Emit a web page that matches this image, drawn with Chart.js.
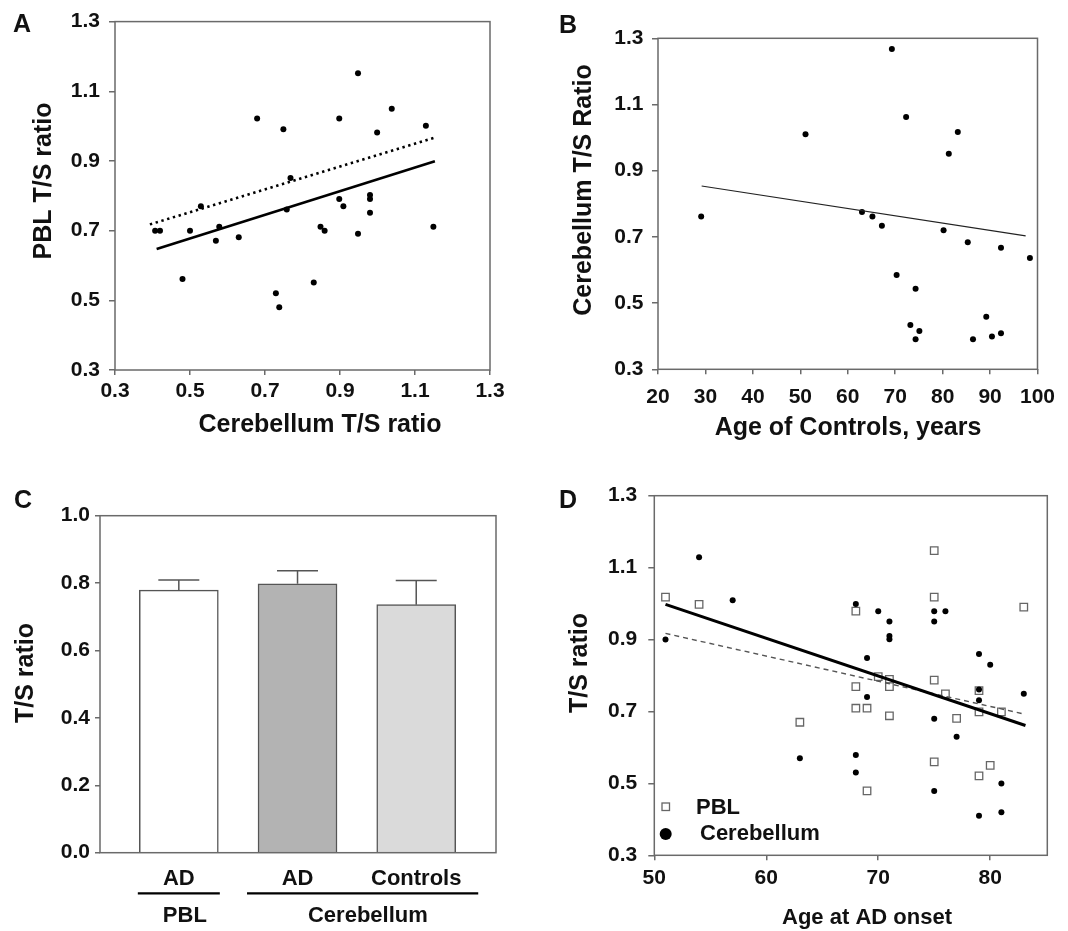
<!DOCTYPE html>
<html><head><meta charset="utf-8">
<script src="https://cdn.jsdelivr.net/npm/chart.js@4.4.0/dist/chart.umd.min.js"></script>
<style>
html,body{margin:0;padding:0;background:#fff;}
#wrap{position:relative;width:1068px;height:931px;overflow:hidden;background:#fff;}
canvas{position:absolute;left:0;top:0;}
</style></head><body><div id="wrap">
<canvas id="cA" width="1068" height="931"></canvas>
<canvas id="cB" width="1068" height="931"></canvas>
<canvas id="cC" width="1068" height="931"></canvas>
<canvas id="cD" width="1068" height="931"></canvas>
</div>
<script>
// ---------- Panel A data ----------
const aCerebellum = [0.407,0.42,0.48,0.50,0.529,0.569,0.578,0.63,0.679,0.729,0.738,0.749,0.758,0.768,0.83,0.848,0.859,0.898,0.898,0.909,0.948,0.948,0.98,0.98,0.98,0.999,1.038,1.129,1.149];
const aPBL        = [0.70,0.70,0.561,0.70,0.770,0.671,0.711,0.681,1.022,0.52,0.48,0.991,0.761,0.851,0.551,0.711,0.70,1.022,0.791,0.770,1.152,0.691,0.802,0.791,0.751,0.982,1.050,1.001,0.711];
const aFitSolidX = [0.411,1.153], aFitSolidY = [0.647,0.899];
const aFitDotX   = [0.393,1.153], aFitDotY   = [0.718,0.967];
const aXTicks = [0.3,0.5,0.7,0.9,1.1,1.3];
const aYTicks = [0.3,0.5,0.7,0.9,1.1,1.3];

// ---------- Panel B data ----------
const bAge        = [29.1,51.1,63.0,65.2,67.2,69.3,70.3,72.3,73.2,74.3,74.3,75.1,80.2,81.3,83.2,85.3,86.4,89.2,90.4,92.3,92.3,98.4];
const bCerebellum = [0.762,1.01,0.775,0.762,0.734,1.268,0.585,1.062,0.434,0.543,0.391,0.416,0.72,0.951,1.017,0.684,0.391,0.459,0.399,0.409,0.667,0.636];
const bFitX = [29.2,97.5], bFitY = [0.854,0.703];
const bXTicks = [20,30,40,50,60,70,80,90,100];
const bYTicks = [0.3,0.5,0.7,0.9,1.1,1.3];

// ---------- Panel C data ----------
const cCategories = ['AD','AD','Controls'];
const cGroups = ['PBL','Cerebellum'];
const cPos = [1,2,3];
const cMeans  = [0.779,0.798,0.736];
const cErrTop = [0.809,0.837,0.808];
const cColors = ['#ffffff','#b3b3b3','#dadada'];
const cYTicks = [0,0.2,0.4,0.6,0.8,1.0];

// ---------- Panel D data ----------
const dPBLAge = [51,54,63,68,68,68,69,69,70,71,71,71,75,75,75,75,76,77,79,79,79,80,81,83];
const dPBL    = [1.018,0.998,0.670,0.979,0.769,0.709,0.709,0.479,0.797,0.789,0.769,0.688,1.147,1.018,0.787,0.560,0.749,0.681,0.758,0.699,0.521,0.550,0.699,0.990];
const dCerAge = [51,54,57,63,68,68,68,69,69,70,71,71,71,75,75,75,75,76,77,79,79,79,79,80,81,81,83];
const dCer    = [0.900,1.129,1.009,0.570,0.999,0.579,0.530,0.849,0.740,0.979,0.950,0.910,0.901,0.979,0.950,0.680,0.479,0.979,0.630,0.860,0.761,0.731,0.410,0.830,0.500,0.420,0.749];
const dFitSolidX = [51,83.15], dFitSolidY = [0.998,0.661];
const dFitDashX  = [51,83.15], dFitDashY  = [0.917,0.692];
const dXTicks = [50,60,70,80];
const dYTicks = [0.3,0.5,0.7,0.9,1.1,1.3];

// ---------- helpers ----------
const FONT = "'Liberation Sans', Arial, Helvetica, sans-serif";
const AXC = '#6a6a6a';
const TXT = '#111';
const W = 1068, H = 931;
const pts = (xs, ys) => xs.map((x, i) => ({x: x, y: ys[i]}));
const f1 = v => Number(v).toFixed(1);

function scale(min, max, ticksArr, o) {
  return {
    type: 'linear', min: min, max: max, offset: false, grace: 0,
    border: {display: false},
    grid: {drawOnChartArea: false, drawTicks: o.tl > 0, tickLength: o.tl, color: AXC, lineWidth: 1.5, offset: false},
    ticks: {
      padding: o.pad, color: TXT, autoSkip: false, maxRotation: 0,
      font: {family: FONT, size: o.fs || 21, weight: 'bold', lineHeight: 1.2},
      callback: o.fmt || ((v) => v)
    },
    afterBuildTicks: s => { s.ticks = ticksArr.map(v => ({value: v})); },
    afterFit: s => { if (s.isHorizontal()) s.height = o.size; else s.width = o.size; }
  };
}

function text(ctx, str, x, y, size, rot, align) {
  ctx.save();
  ctx.fillStyle = TXT;
  ctx.font = 'bold ' + size + 'px ' + FONT;
  ctx.textAlign = align || 'center';
  ctx.textBaseline = 'middle';
  ctx.translate(x, y);
  if (rot) ctx.rotate(-Math.PI / 2);
  ctx.fillText(str, 0, 0);
  ctx.restore();
}

function framePlugin(extra) {
  return {
    id: 'frame',
    afterDraw(chart) {
      const ctx = chart.ctx, a = chart.chartArea;
      ctx.save();
      ctx.strokeStyle = AXC; ctx.lineWidth = 1.5;
      ctx.strokeRect(a.left, a.top, a.right - a.left, a.bottom - a.top);
      ctx.restore();
      if (extra) extra(chart, ctx);
    }
  };
}

function box(L, R, T, B, yw, xh) {
  return {left: L - yw, right: W - R, top: T, bottom: H - B - xh};
}

const base = (pad) => ({
  responsive: false, animation: false, devicePixelRatio: 1,
  layout: {padding: pad},
  plugins: {legend: {display: false}, tooltip: {enabled: false}},
  events: []
});

// ---------- Panel A ----------
new Chart(document.getElementById('cA'), {
  type: 'scatter',
  data: {datasets: [
    {data: pts(aFitSolidX, aFitSolidY), showLine: true, borderColor: '#000', borderWidth: 2.6, pointRadius: 0, order: 0},
    {data: pts(aFitDotX, aFitDotY), showLine: true, borderColor: '#000', borderWidth: 2.6, borderDash: [2.4, 3.6], pointRadius: 0, order: 0},
    {data: pts(aCerebellum, aPBL), pointRadius: 3, pointBackgroundColor: '#000', pointBorderWidth: 0, order: 1}
  ]},
  options: Object.assign(base(box(115, 490, 20, 370, 70, 50)), {
    scales: {
      x: scale(0.3, 1.3, aXTicks, {tl: 5, pad: 4, size: 50, fmt: f1}),
      y: scale(0.3, 1.3, aYTicks, {tl: 6, pad: 9, size: 70, fmt: f1})
    }
  }),
  plugins: [framePlugin((chart, ctx) => {
    text(ctx, 'A', 22, 25, 25);
    text(ctx, 'PBL T/S ratio', 44, 181, 25, true);
    text(ctx, 'Cerebellum T/S ratio', 320, 425, 25);
  })]
});

// ---------- Panel B ----------
new Chart(document.getElementById('cB'), {
  type: 'scatter',
  data: {datasets: [
    {data: pts(bFitX, bFitY), showLine: true, borderColor: '#222', borderWidth: 1.1, pointRadius: 0, order: 0},
    {data: pts(bAge, bCerebellum), pointRadius: 3, pointBackgroundColor: '#000', pointBorderWidth: 0, order: 1}
  ]},
  options: Object.assign(base(box(658, 1037.5, 38.3, 369.3, 70, 50)), {
    scales: {
      x: scale(20, 100, bXTicks, {tl: 5, pad: 10, size: 50}),
      y: scale(0.3, 1.3, bYTicks, {tl: 6, pad: 8.5, size: 70, fmt: f1})
    }
  }),
  plugins: [framePlugin((chart, ctx) => {
    text(ctx, 'B', 568, 26, 25);
    text(ctx, 'Cerebellum T/S Ratio', 584, 190, 25, true);
    text(ctx, 'Age of Controls, years', 848, 428, 25);
  })]
});

// ---------- Panel C ----------
new Chart(document.getElementById('cC'), {
  type: 'bar',
  data: {datasets: [{
    data: pts(cPos, cMeans),
    backgroundColor: cColors, borderColor: '#555', borderWidth: 1.5,
    barThickness: 79
  }]},
  options: Object.assign(base(box(100, 496, 515.7, 852.7, 70, 50)), {
    scales: {
      x: scale(0.336, 3.672, cPos, {tl: 0, pad: 13, size: 50, fs: 22, fmt: (v, i) => cCategories[i]}),
      y: scale(0, 1.0, cYTicks, {tl: 5, pad: 5, size: 70, fmt: f1})
    }
  }),
  plugins: [{
    id: 'errbars',
    afterDatasetsDraw(chart) {
      const ctx = chart.ctx, xs = chart.scales.x, ys = chart.scales.y;
      ctx.save();
      ctx.strokeStyle = '#555'; ctx.lineWidth = 1.5;
      cMeans.forEach((m, i) => {
        const px = xs.getPixelForValue(cPos[i]);
        const y0 = ys.getPixelForValue(m), y1 = ys.getPixelForValue(cErrTop[i]);
        ctx.beginPath();
        ctx.moveTo(px, y0); ctx.lineTo(px, y1);
        ctx.moveTo(px - 20.5, y1); ctx.lineTo(px + 20.5, y1);
        ctx.stroke();
      });
      ctx.restore();
    }
  }, framePlugin((chart, ctx) => {
    const xs = chart.scales.x;
    const p1 = xs.getPixelForValue(cPos[0]), p2 = xs.getPixelForValue(cPos[1]), p3 = xs.getPixelForValue(cPos[2]);
    text(ctx, 'C', 23, 501, 25);
    text(ctx, 'T/S ratio', 26, 673, 25, true);
    ctx.save();
    ctx.strokeStyle = '#000'; ctx.lineWidth = 2.2;
    ctx.beginPath();
    ctx.moveTo(p1 - 41, 893.3); ctx.lineTo(p1 + 41, 893.3);
    ctx.moveTo(p2 - 50.5, 893.3); ctx.lineTo(p3 + 62, 893.3);
    ctx.stroke();
    ctx.restore();
    text(ctx, cGroups[0], p1 + 6, 915.5, 22);
    text(ctx, cGroups[1], (p2 + p3) / 2 + 11, 915.5, 22);
  })]
});

// ---------- Panel D ----------
new Chart(document.getElementById('cD'), {
  type: 'scatter',
  data: {datasets: [
    {data: pts(dFitSolidX, dFitSolidY), showLine: true, borderColor: '#000', borderWidth: 3, pointRadius: 0, order: 0},
    {data: pts(dFitDashX, dFitDashY), showLine: true, borderColor: '#555', borderWidth: 1.4, borderDash: [5, 4], pointRadius: 0, order: 0},
    {data: pts(dCerAge, dCer), pointRadius: 3, pointBackgroundColor: '#000', pointBorderWidth: 0, order: 1},
    {data: pts(dPBLAge, dPBL), pointStyle: 'rect', pointRadius: 5.3, pointBackgroundColor: '#fff', pointBorderColor: '#666', pointBorderWidth: 1.3, order: 2}
  ]},
  options: Object.assign(base(box(654.3, 1047.3, 495.7, 855.3, 70, 50)), {
    scales: {
      x: scale(50, 85.1, dXTicks, {tl: 5, pad: 5, size: 50}),
      y: scale(0.3, 1.3, dYTicks, {tl: 6, pad: 11, size: 70, fmt: f1})
    }
  }),
  plugins: [framePlugin((chart, ctx) => {
    text(ctx, 'D', 568, 501, 25);
    text(ctx, 'T/S ratio', 580, 663, 25, true);
    text(ctx, 'Age at AD onset', 867, 918, 22);
    ctx.save();
    ctx.fillStyle = '#fff'; ctx.strokeStyle = '#666'; ctx.lineWidth = 1.3;
    ctx.fillRect(662, 803, 7.5, 7.5); ctx.strokeRect(662, 803, 7.5, 7.5);
    ctx.fillStyle = '#000';
    ctx.beginPath(); ctx.arc(665.7, 834, 6, 0, Math.PI * 2); ctx.fill();
    ctx.restore();
    text(ctx, 'PBL', 696, 807.5, 22, false, 'left');
    text(ctx, 'Cerebellum', 700, 834, 22, false, 'left');
  })]
});
</script>
</body></html>
